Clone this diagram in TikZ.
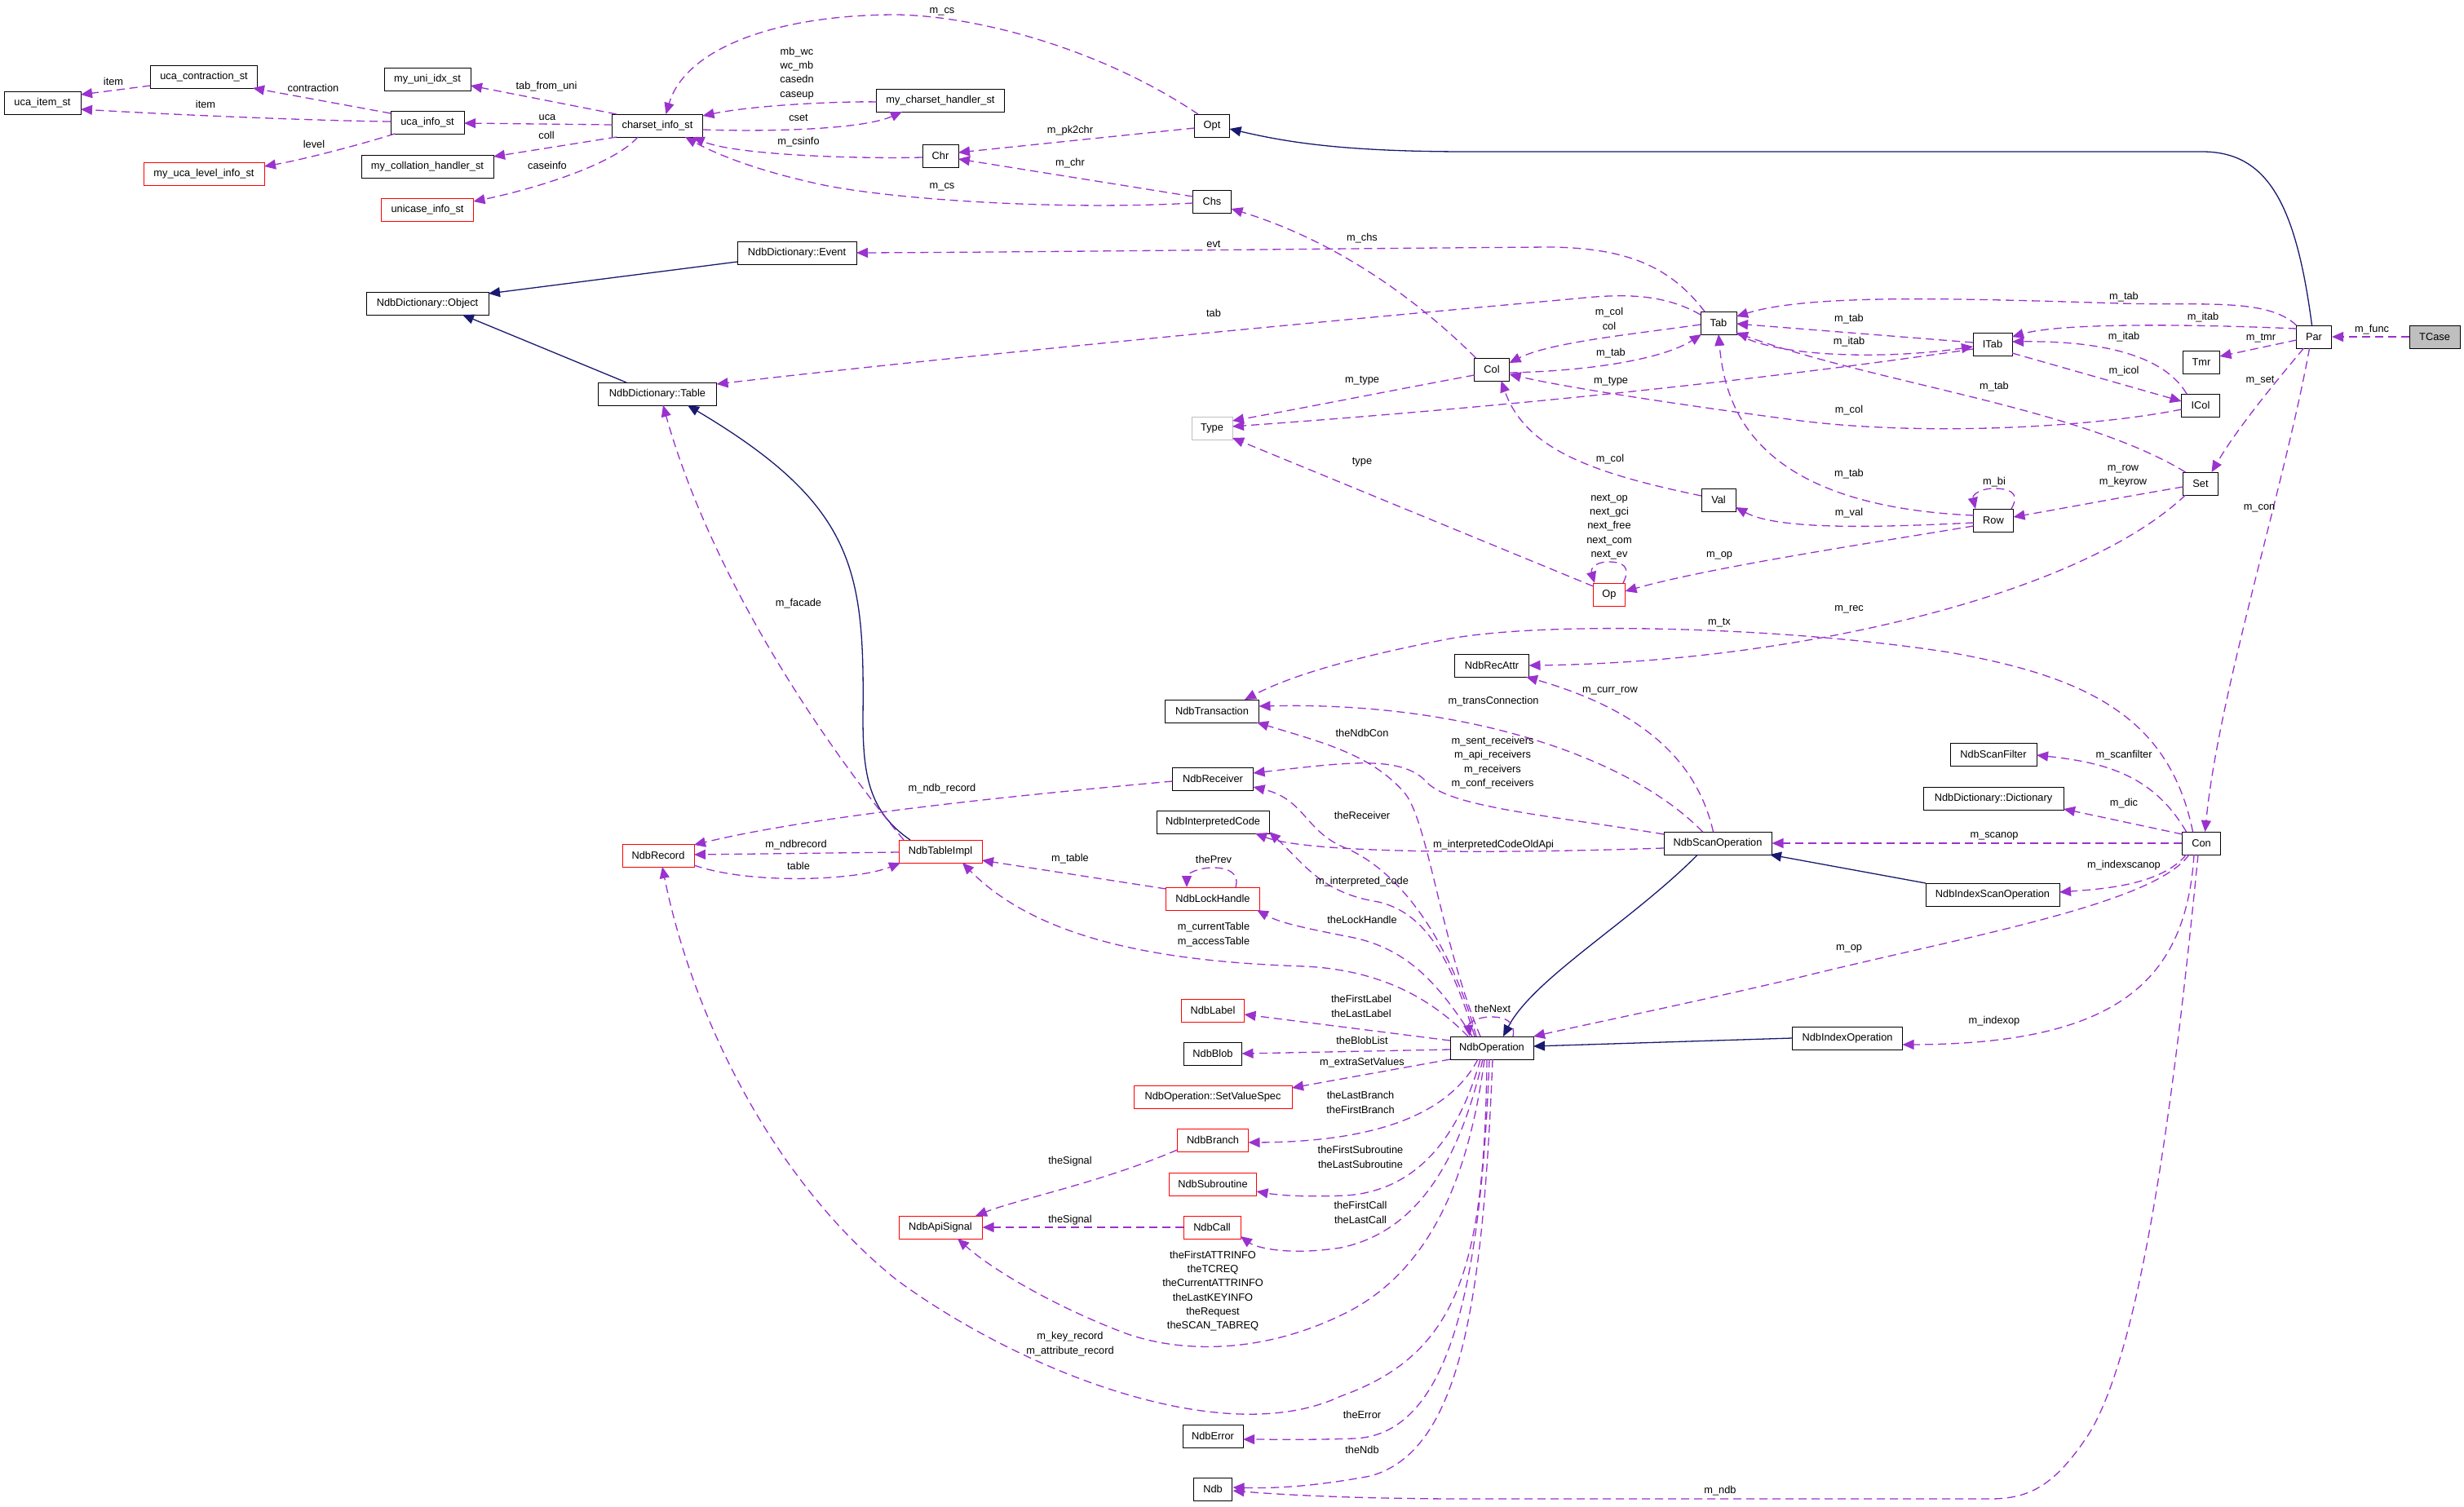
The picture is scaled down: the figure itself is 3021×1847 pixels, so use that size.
\documentclass[tikz,border=0pt]{standalone}
\usepackage{fontspec}
\setmainfont{Liberation Sans}
\usetikzlibrary{arrows.meta,calc}
\definecolor{dcol}{HTML}{9A32CD}
\definecolor{navy}{HTML}{191970}
\definecolor{gbox}{HTML}{BFBFBF}
\newcommand{\dgfont}{\fontsize{12.8}{17.3}\selectfont}
\begin{document}
\begin{tikzpicture}[x=1pt,y=-1pt,
 box/.style={draw=black, line width=1.0pt, minimum height=28pt, inner sep=0pt, font=\dgfont},
 rbox/.style={box, draw=red},
 lb/.style={font=\dgfont, inner sep=0pt, align=center},
 dep/.style={draw=dcol, line width=1.3pt, dash pattern=on 10pt off 6pt, -{Triangle[length=14pt,width=12pt]}},
 inh/.style={draw=navy, line width=1.3pt, -{Triangle[length=14pt,width=12pt]}}]
\useasboundingbox (0,0) rectangle (3021,1847);
\fill[white] (0,0) rectangle (3021,1847);
% nodes
\node[box,minimum width=94pt] (uis) at (52,126) {uca\_item\_st};
\node[box,minimum width=131pt] (ucs) at (250,94) {uca\_contraction\_st};
\node[box,minimum width=106pt] (muis) at (524,97) {my\_uni\_idx\_st};
\node[box,minimum width=90pt] (uinfo) at (524,150) {uca\_info\_st};
\node[box,minimum width=111pt] (cis) at (806,154) {charset\_info\_st};
\node[box,minimum width=162pt] (mcoll) at (524,204) {my\_collation\_handler\_st};
\node[rbox,minimum width=148pt] (mulis) at (250,213) {my\_uca\_level\_info\_st};
\node[rbox,minimum width=113pt] (unic) at (524,257) {unicase\_info\_st};
\node[box,minimum width=157pt] (mcsh) at (1153,123) {my\_charset\_handler\_st};
\node[box,minimum width=43pt] (opt) at (1486,154) {Opt};
\node[box,minimum width=44pt] (chr) at (1153,191) {Chr};
\node[box,minimum width=47pt] (chs) at (1486,247) {Chs};
\node[box,minimum width=150pt] (dobj) at (524,372) {NdbDictionary::Object};
\node[box,minimum width=145pt] (dtab) at (806,483) {NdbDictionary::Table};
\node[box,minimum width=146pt] (devt) at (977,310) {NdbDictionary::Event};
\node[box,minimum width=44pt] (tab) at (2107,396) {Tab};
\node[box,minimum width=48pt] (itab) at (2443,422) {ITab};
\node[box,minimum width=43pt] (par) at (2837,413) {Par};
\node[box,minimum width=62pt,fill=gbox] (tcase) at (2985,413) {TCase};
\node[box,minimum width=45pt] (tmr) at (2699,444) {Tmr};
\node[box,minimum width=47pt] (icol) at (2698,497) {ICol};
\node[box,minimum width=43pt] (nset) at (2698,593) {Set};
\node[box,minimum width=43pt] (col) at (1829,453) {Col};
\node[box,minimum width=50pt,draw=gbox] (ntype) at (1486,525) {Type};
\node[box,minimum width=42pt] (val) at (2107,613) {Val};
\node[box,minimum width=49pt] (row) at (2444,638) {Row};
\node[rbox,minimum width=39pt] (opn) at (1973,729) {Op};
\node[box,minimum width=91pt] (recattr) at (1829,816) {NdbRecAttr};
\node[box,minimum width=115pt] (trans) at (1486,872) {NdbTransaction};
\node[box,minimum width=99pt] (recv) at (1487,955) {NdbReceiver};
\node[box,minimum width=138pt] (icode) at (1487,1008) {NdbInterpretedCode};
\node[rbox,minimum width=102pt] (timpl) at (1153,1044) {NdbTableImpl};
\node[rbox,minimum width=88pt] (rec) at (807,1049) {NdbRecord};
\node[rbox,minimum width=115pt] (lock) at (1487,1102) {NdbLockHandle};
\node[box,minimum width=106pt] (sfilt) at (2444,925) {NdbScanFilter};
\node[box,minimum width=172pt] (ddict) at (2444,979) {NdbDictionary::Dictionary};
\node[box,minimum width=132pt] (sop) at (2106,1034) {NdbScanOperation};
\node[box,minimum width=47pt] (con) at (2699,1034) {Con};
\node[box,minimum width=164pt] (isop) at (2443,1097) {NdbIndexScanOperation};
\node[rbox,minimum width=77pt] (nlabel) at (1487,1239) {NdbLabel};
\node[box,minimum width=102pt] (nop) at (1829,1285) {NdbOperation};
\node[box,minimum width=71pt] (blob) at (1487,1292) {NdbBlob};
\node[rbox,minimum width=194pt] (svs) at (1487,1345) {NdbOperation::SetValueSpec};
\node[rbox,minimum width=87pt] (branch) at (1487,1398) {NdbBranch};
\node[rbox,minimum width=107pt] (subr) at (1487,1452) {NdbSubroutine};
\node[rbox,minimum width=102pt] (asig) at (1153,1505) {NdbApiSignal};
\node[rbox,minimum width=70pt] (call) at (1486,1505) {NdbCall};
\node[box,minimum width=74pt] (err) at (1487,1761) {NdbError};
\node[box,minimum width=47pt] (ndb) at (1487,1826) {Ndb};
\node[box,minimum width=135pt] (iop) at (2265,1273) {NdbIndexOperation};
% edges: charset area
\draw[dep] ($(ucs)+(-65.5,11)$) -- ($(uis)+(47,-10)$);
\draw[dep] ($(uinfo)+(-45,-1)$) .. controls (380,148) and (200,140) .. ($(uis)+(47,8)$);
\draw[dep] ($(uinfo)+(-45,-11)$) -- ($(ucs)+(60,14)$);
\draw[dep] ($(uinfo)+(-40,14)$) .. controls (440,178) and (370,196) .. ($(mulis)+(74,-9)$);
\draw[dep] ($(cis)+(-50,-14)$) -- ($(muis)+(53,8)$);
\draw[dep] ($(cis)+(-55.5,-1)$) -- ($(uinfo)+(45,1)$);
\draw[dep] ($(cis)+(-50,14)$) -- ($(mcoll)+(81,-12)$);
\draw[dep] ($(cis)+(-24,14)$) .. controls (750,205) and (640,235) .. ($(unic)+(56.5,-10)$);
\draw[dep] ($(mcsh)+(-78.5,2)$) .. controls (1040,124) and (930,128) .. ($(cis)+(55.5,-12)$);
\draw[dep] ($(cis)+(55.5,5)$) .. controls (950,162) and (1060,158) .. ($(mcsh)+(-47,14)$);
\draw[dep] ($(opt)+(-17,-14)$) .. controls (1350,60) and (1200,20) .. (1100,18) .. controls (950,18) and (840,60) .. ($(cis)+(10.5,-14)$);
\draw[dep] ($(chr)+(-22,2)$) .. controls (1050,195) and (900,190) .. ($(cis)+(43.5,14)$);
\draw[dep] ($(chs)+(-23.5,2)$) .. controls (1300,258) and (1100,245) .. (1010,227) .. controls (930,210) and (880,190) .. ($(cis)+(34,14)$);
\draw[dep] ($(opt)+(-21.5,3)$) -- ($(chr)+(22,-4)$);
\draw[dep] ($(chs)+(-23.5,-6)$) -- ($(chr)+(22,4)$);
% dictionary
\draw[inh] ($(devt)+(-73,11)$) -- ($(dobj)+(75,-12)$);
\draw[inh] ($(dtab)+(-38,-14)$) -- ($(dobj)+(43,14)$);
\draw[inh] ($(timpl)+(-37,-14)$) .. controls (1065,995) and (1058,950) .. (1058,880) .. controls (1060,700) and (1050,620) .. ($(dtab)+(37,14)$);
\draw[dep] ($(timpl)+(-45,-14)$) .. controls (1000,900) and (870,700) .. ($(dtab)+(7,14)$);
\draw[dep] ($(tab)+(-17,-14)$) .. controls (2050,330) and (2000,304) .. (1900,303) .. controls (1600,305) and (1300,309) .. ($(devt)+(73,0)$);
\draw[dep] ($(tab)+(-22,-10)$) .. controls (2040,360) and (1990,360) .. (1934,366) .. controls (1500,405) and (1100,445) .. ($(dtab)+(72.5,-12)$);
% test classes
\draw[dep] ($(col)+(-19.5,-14)$) .. controls (1720,350) and (1620,290) .. ($(chs)+(23.5,9)$);
\draw[dep] ($(tab)+(-22,2)$) .. controls (2000,410) and (1900,420) .. ($(col)+(21.5,-8)$);
\draw[dep] ($(col)+(21.5,4)$) .. controls (1950,455) and (2040,440) .. ($(tab)+(-21,14)$);
\draw[dep] ($(col)+(-21.5,7)$) .. controls (1700,480) and (1600,500) .. ($(ntype)+(25,-9)$);
\draw[dep] ($(itab)+(-24,6)$) .. controls (2200,460) and (1900,495) .. ($(ntype)+(25,-2)$);
\draw[dep] ($(val)+(-21,-5)$) .. controls (1950,580) and (1870,550) .. ($(col)+(11.5,14)$);
\draw[dep] ($(opn)+(-19.5,-10)$) -- ($(ntype)+(25,12)$);
\draw[dep] ($(opn)+(17,-14)$) .. controls (2000,695) and (1990,689) .. (1972,689) .. controls (1955,689) and (1950,698) .. ($(opn)+(-18,-14)$);
\draw[dep] ($(row)+(-24.5,7)$) .. controls (2300,665) and (2100,695) .. ($(opn)+(19.5,-4)$);
\draw[dep] ($(row)+(-24.5,3)$) .. controls (2300,647) and (2180,650) .. ($(val)+(21,9)$);
\draw[dep] ($(row)+(-24.5,-6)$) .. controls (2150,620) and (2115,500) .. ($(tab)+(0,14)$);
\draw[dep] ($(row)+(22,-14)$) .. controls (2478,603) and (2462,599) .. (2444,599) .. controls (2428,599) and (2418,607) .. ($(row)+(-22,-14)$);
\draw[dep] ($(nset)+(-21.5,4)$) .. controls (2600,610) and (2520,625) .. ($(row)+(24.5,-4)$);
\draw[dep] ($(nset)+(-18.5,-14)$) .. controls (2550,500) and (2300,470) .. ($(tab)+(22,12)$);
\draw[dep] ($(nset)+(-18.5,14)$) .. controls (2550,730) and (2200,812) .. ($(recattr)+(45.5,0)$);
\draw[dep] ($(par)+(-12.5,14)$) .. controls (2780,480) and (2740,530) .. ($(nset)+(13.5,-14)$);
\draw[dep] ($(par)+(-21.5,4)$) -- ($(tmr)+(22.5,-7)$);
\draw[dep] ($(par)+(-21.5,-10)$) .. controls (2700,398) and (2530,395) .. ($(itab)+(24,-9)$);
\draw[dep] ($(par)+(-21.5,-14)$) .. controls (2780,365) and (2700,375) .. (2600,372) .. controls (2400,366) and (2220,360) .. ($(tab)+(22,-8)$);
\draw[dep] (tcase.west) -- (par.east);
\draw[dep] ($(par)+(-5.5,14)$) .. controls (2800,600) and (2720,850) .. ($(con)+(4.5,-14)$);
\draw[dep] ($(itab)+(-24,-2)$) -- ($(tab)+(22,1)$);
\draw[dep] ($(tab)+(22,13)$) .. controls (2180,440) and (2320,440) .. ($(itab)+(-24,3)$);
\draw[dep] ($(icol)+(-17,-14)$) .. controls (2650,430) and (2560,418) .. ($(itab)+(24,-3)$);
\draw[dep] ($(itab)+(24,11)$) -- ($(icol)+(-23.5,-5)$);
\draw[dep] ($(icol)+(-23.5,5)$) .. controls (2560,525) and (2350,535) .. (2200,515) .. controls (2050,495) and (1920,475) .. ($(col)+(21.5,6)$);
\draw[inh] ($(par)+(-2.5,-14)$) .. controls (2815,250) and (2780,186) .. (2700,186) -- (1800,186) .. controls (1650,186) and (1580,175) .. ($(opt)+(21.5,4)$);
% Con and scan
\draw[dep] ($(con)+(-10.5,-14)$) .. controls (2660,880) and (2560,830) .. (2390,800) .. controls (2200,770) and (1900,760) .. (1773,784) .. controls (1650,808) and (1580,830) .. ($(trans)+(40,-14)$);
\draw[dep] ($(sop)+(-5.5,-14)$) .. controls (2080,930) and (2010,870) .. ($(recattr)+(42,14)$);
\draw[dep] ($(sop)+(-18.5,-14)$) .. controls (2000,930) and (1800,860) .. ($(trans)+(57.5,-6)$);
\draw[dep] ($(sop)+(-66,-11)$) .. controls (1900,1000) and (1780,990) .. (1750,960) .. controls (1720,925) and (1650,935) .. ($(recv)+(49.5,-7)$);
\draw[dep] ($(sop)+(-66,6)$) .. controls (1800,1048) and (1600,1045) .. ($(icode)+(52,14)$);
\draw[dep] ($(con)+(-18.5,-14)$) .. controls (2640,950) and (2580,935) .. ($(sfilt)+(53,1)$);
\draw[dep] ($(con)+(-23.5,-11)$) -- ($(ddict)+(86,13)$);
\draw[dep] (con.west) -- (sop.east);
\draw[dep] ($(con)+(-18.5,14)$) .. controls (2650,1085) and (2580,1090) .. ($(isop)+(82,-3)$);
\draw[inh] ($(isop)+(-82,-14)$) -- ($(sop)+(64,14)$);
\draw[inh] ($(sop)+(-24.5,14)$) .. controls (2000,1130) and (1880,1200) .. ($(nop)+(14,-14)$);
\draw[inh] (iop.west) -- ($(nop)+(51,-2)$);
\draw[dep] ($(con)+(-15,14)$) .. controls (2640,1110) and (2400,1150) .. (2200,1200) .. controls (2050,1235) and (1950,1255) .. ($(nop)+(51,-14)$);
\draw[dep] ($(con)+(-9,14)$) .. controls (2680,1200) and (2600,1280) .. ($(iop)+(67.5,8)$);
\draw[dep] ($(con)+(-4,14)$) .. controls (2670,1300) and (2630,1650) .. (2560,1760) .. controls (2520,1820) and (2490,1838) .. (2440,1838) -- (1800,1838) .. controls (1650,1838) and (1560,1832) .. ($(ndb)+(24.5,2)$);
% NdbOperation
\draw[dep] ($(nop)+(-14,-14)$) .. controls (1765,1150) and (1750,1000) .. (1720,970) .. controls (1680,925) and (1620,910) .. ($(trans)+(55,14)$);
\draw[dep] ($(nop)+(-19,-14)$) .. controls (1780,1160) and (1720,1070) .. (1650,1040) .. controls (1600,1020) and (1600,980) .. ($(recv)+(49.5,10)$);
\draw[dep] ($(nop)+(-21,-14)$) .. controls (1780,1180) and (1750,1120) .. (1690,1106) .. controls (1620,1095) and (1600,1060) .. ($(icode)+(69,12)$);
\draw[dep] ($(nop)+(-24,-14)$) .. controls (1760,1200) and (1720,1160) .. (1650,1148) .. controls (1600,1138) and (1570,1132) .. ($(lock)+(54,14)$);
\draw[dep] ($(nop)+(-29,-14)$) .. controls (1760,1230) and (1700,1190) .. (1600,1185) .. controls (1450,1180) and (1280,1160) .. ($(timpl)+(27,14)$);
\draw[dep] ($(nop)+(-51,-9)$) -- ($(nlabel)+(38.5,5)$);
\draw[dep] ($(nop)+(26,-14)$) .. controls (1858,1252) and (1845,1247) .. (1828,1247) .. controls (1810,1247) and (1800,1255) .. ($(nop)+(-27,-14)$);
\draw[dep] ($(nop)+(-51,2)$) -- ($(blob)+(35.5,0)$);
\draw[dep] ($(nop)+(-51,14)$) -- ($(svs)+(97,-11)$);
\draw[dep] ($(nop)+(-17,14)$) .. controls (1780,1360) and (1700,1400) .. ($(branch)+(43.5,3)$);
\draw[dep] ($(nop)+(-14,14)$) .. controls (1790,1390) and (1740,1460) .. (1650,1466) .. controls (1600,1468) and (1570,1466) .. ($(subr)+(53.5,9)$);
\draw[dep] ($(nop)+(-11,14)$) .. controls (1790,1420) and (1740,1510) .. (1644,1530) .. controls (1580,1540) and (1540,1530) .. ($(call)+(35,11)$);
\draw[dep] ($(nop)+(-9,14)$) .. controls (1800,1450) and (1750,1560) .. (1650,1610) .. controls (1550,1660) and (1450,1660) .. (1380,1635) .. controls (1300,1605) and (1220,1560) .. ($(asig)+(21,14)$);
\draw[dep] ($(nop)+(-6,14)$) .. controls (1820,1550) and (1790,1660) .. (1644,1712) .. controls (1500,1780) and (1250,1680) .. (1100,1570) .. controls (950,1450) and (850,1250) .. ($(rec)+(5,14)$);
\draw[dep] ($(nop)+(-3,14)$) .. controls (1815,1600) and (1770,1760) .. (1660,1764) .. controls (1600,1766) and (1560,1765) .. ($(err)+(37,4)$);
\draw[dep] ($(nop)+(1,14)$) .. controls (1818,1600) and (1790,1780) .. (1680,1810) .. controls (1600,1825) and (1550,1825) .. ($(ndb)+(24.5,-2)$);
\draw[dep] ($(branch)+(-43.5,12)$) .. controls (1350,1450) and (1250,1470) .. ($(asig)+(43,-14)$);
\draw[dep] (call.west) -- (asig.east);
\draw[dep] ($(lock)+(-57.5,-12)$) -- ($(timpl)+(51,11)$);
\draw[dep] ($(lock)+(28,-14)$) .. controls (1520,1070) and (1505,1064) .. (1487,1064) .. controls (1468,1064) and (1455,1072) .. ($(lock)+(-32,-14)$);
\draw[dep] ($(recv)+(-49.5,3)$) .. controls (1250,975) and (1000,1000) .. ($(rec)+(44,-13)$);
\draw[dep] ($(timpl)+(-51,1)$) -- ($(rec)+(44,-1)$);
\draw[dep] ($(rec)+(44,12)$) .. controls (920,1085) and (1050,1080) .. ($(timpl)+(-49,14)$);
% labels
\node[lb] (l1) at (139,100) {item};
\node[lb] (l2) at (384,108) {contraction};
\node[lb] (l3) at (252,128) {item};
\node[lb] (l4) at (385,177) {level};
\node[lb] (l5) at (670,106) {tab\_from\_uni};
\node[lb] (l6) at (671,144) {uca};
\node[lb] (l7) at (670,166) {coll};
\node[lb] (l8) at (671,203) {caseinfo};
\node[lb] (l9) at (977,90) {mb\_wc\\wc\_mb\\casedn\\caseup};
\node[lb] (l10) at (979,144) {cset};
\node[lb] (l11) at (979,174) {m\_csinfo};
\node[lb] (l12) at (1155,14) {m\_cs};
\node[lb] (l13) at (1312,160) {m\_pk2chr};
\node[lb] (l14) at (1312,200) {m\_chr};
\node[lb] (l15) at (1155,229) {m\_cs};
\node[lb] (l16) at (1488,299) {evt};
\node[lb] (l17) at (1670,292) {m\_chs};
\node[lb] (l18) at (1488,384) {tab};
\node[lb] (l19) at (1973,391) {m\_col\\col};
\node[lb] (l20) at (1975,433) {m\_tab};
\node[lb] (l21) at (1670,467) {m\_type};
\node[lb] (l22) at (1975,468) {m\_type};
\node[lb] (l23) at (1670,567) {type};
\node[lb] (l24) at (1974,563) {m\_col};
\node[lb] (l25) at (1973,646) {next\_op\\next\_gci\\next\_free\\next\_com\\next\_ev};
\node[lb] (l26) at (2604,364) {m\_tab};
\node[lb] (l27) at (2701,389) {m\_itab};
\node[lb] (l28) at (2908,404) {m\_func};
\node[lb] (l29) at (2267,391) {m\_tab};
\node[lb] (l30) at (2267,419) {m\_itab};
\node[lb] (l31) at (2604,413) {m\_itab};
\node[lb] (l32) at (2772,415) {m\_tmr};
\node[lb] (l33) at (2604,455) {m\_icol};
\node[lb] (l34) at (2771,467) {m\_set};
\node[lb] (l35) at (2445,474) {m\_tab};
\node[lb] (l36) at (2267,503) {m\_col};
\node[lb] (l37) at (2267,581) {m\_tab};
\node[lb] (l38) at (2445,591) {m\_bi};
\node[lb] (l39) at (2603,584) {m\_row\\m\_keyrow};
\node[lb] (l40) at (2267,629) {m\_val};
\node[lb] (l41) at (2770,623) {m\_con};
\node[lb] (l42) at (2108,681) {m\_op};
\node[lb] (l43) at (2267,747) {m\_rec};
\node[lb] (l44) at (2108,764) {m\_tx};
\node[lb] (l45) at (1974,847) {m\_curr\_row};
\node[lb] (l46) at (979,740) {m\_facade};
\node[lb] (l47) at (1831,860) {m\_transConnection};
\node[lb] (l48) at (1670,899) {theNdbCon};
\node[lb] (l49) at (1830,935) {m\_sent\_receivers\\m\_api\_receivers\\m\_receivers\\m\_conf\_receivers};
\node[lb] (l50) at (1155,967) {m\_ndb\_record};
\node[lb] (l51) at (1670,1000) {theReceiver};
\node[lb] (l52) at (1831,1036) {m\_interpretedCodeOldApi};
\node[lb] (l53) at (976,1036) {m\_ndbrecord};
\node[lb] (l54) at (979,1062) {table};
\node[lb] (l55) at (1312,1053) {m\_table};
\node[lb] (l56) at (1488,1054) {thePrev};
\node[lb] (l57) at (1670,1081) {m\_interpreted\_code};
\node[lb] (l58) at (1670,1128) {theLockHandle};
\node[lb] (l59) at (1488,1146) {m\_currentTable\\m\_accessTable};
\node[lb] (l60) at (1669,1234) {theFirstLabel\\theLastLabel};
\node[lb] (l61) at (1830,1237) {theNext};
\node[lb] (l62) at (1670,1276) {theBlobList};
\node[lb] (l63) at (1670,1303) {m\_extraSetValues};
\node[lb] (l64) at (1668,1352) {theLastBranch\\theFirstBranch};
\node[lb] (l65) at (1312,1424) {theSignal};
\node[lb] (l66) at (1668,1419) {theFirstSubroutine\\theLastSubroutine};
\node[lb] (l67) at (1668,1487) {theFirstCall\\theLastCall};
\node[lb] (l68) at (1312,1496) {theSignal};
\node[lb] (l69) at (1487,1583) {theFirstATTRINFO\\theTCREQ\\theCurrentATTRINFO\\theLastKEYINFO\\theRequest\\theSCAN\_TABREQ};
\node[lb] (l70) at (1312,1648) {m\_key\_record\\m\_attribute\_record};
\node[lb] (l71) at (1670,1735) {theError};
\node[lb] (l72) at (1670,1778) {theNdb};
\node[lb] (l73) at (2604,926) {m\_scanfilter};
\node[lb] (l74) at (2604,985) {m\_dic};
\node[lb] (l75) at (2445,1025) {m\_scanop};
\node[lb] (l76) at (2604,1061) {m\_indexscanop};
\node[lb] (l77) at (2267,1163) {m\_op};
\node[lb] (l78) at (2445,1252) {m\_indexop};
\node[lb] (l79) at (2109,1828) {m\_ndb};
\end{tikzpicture}
\end{document}
